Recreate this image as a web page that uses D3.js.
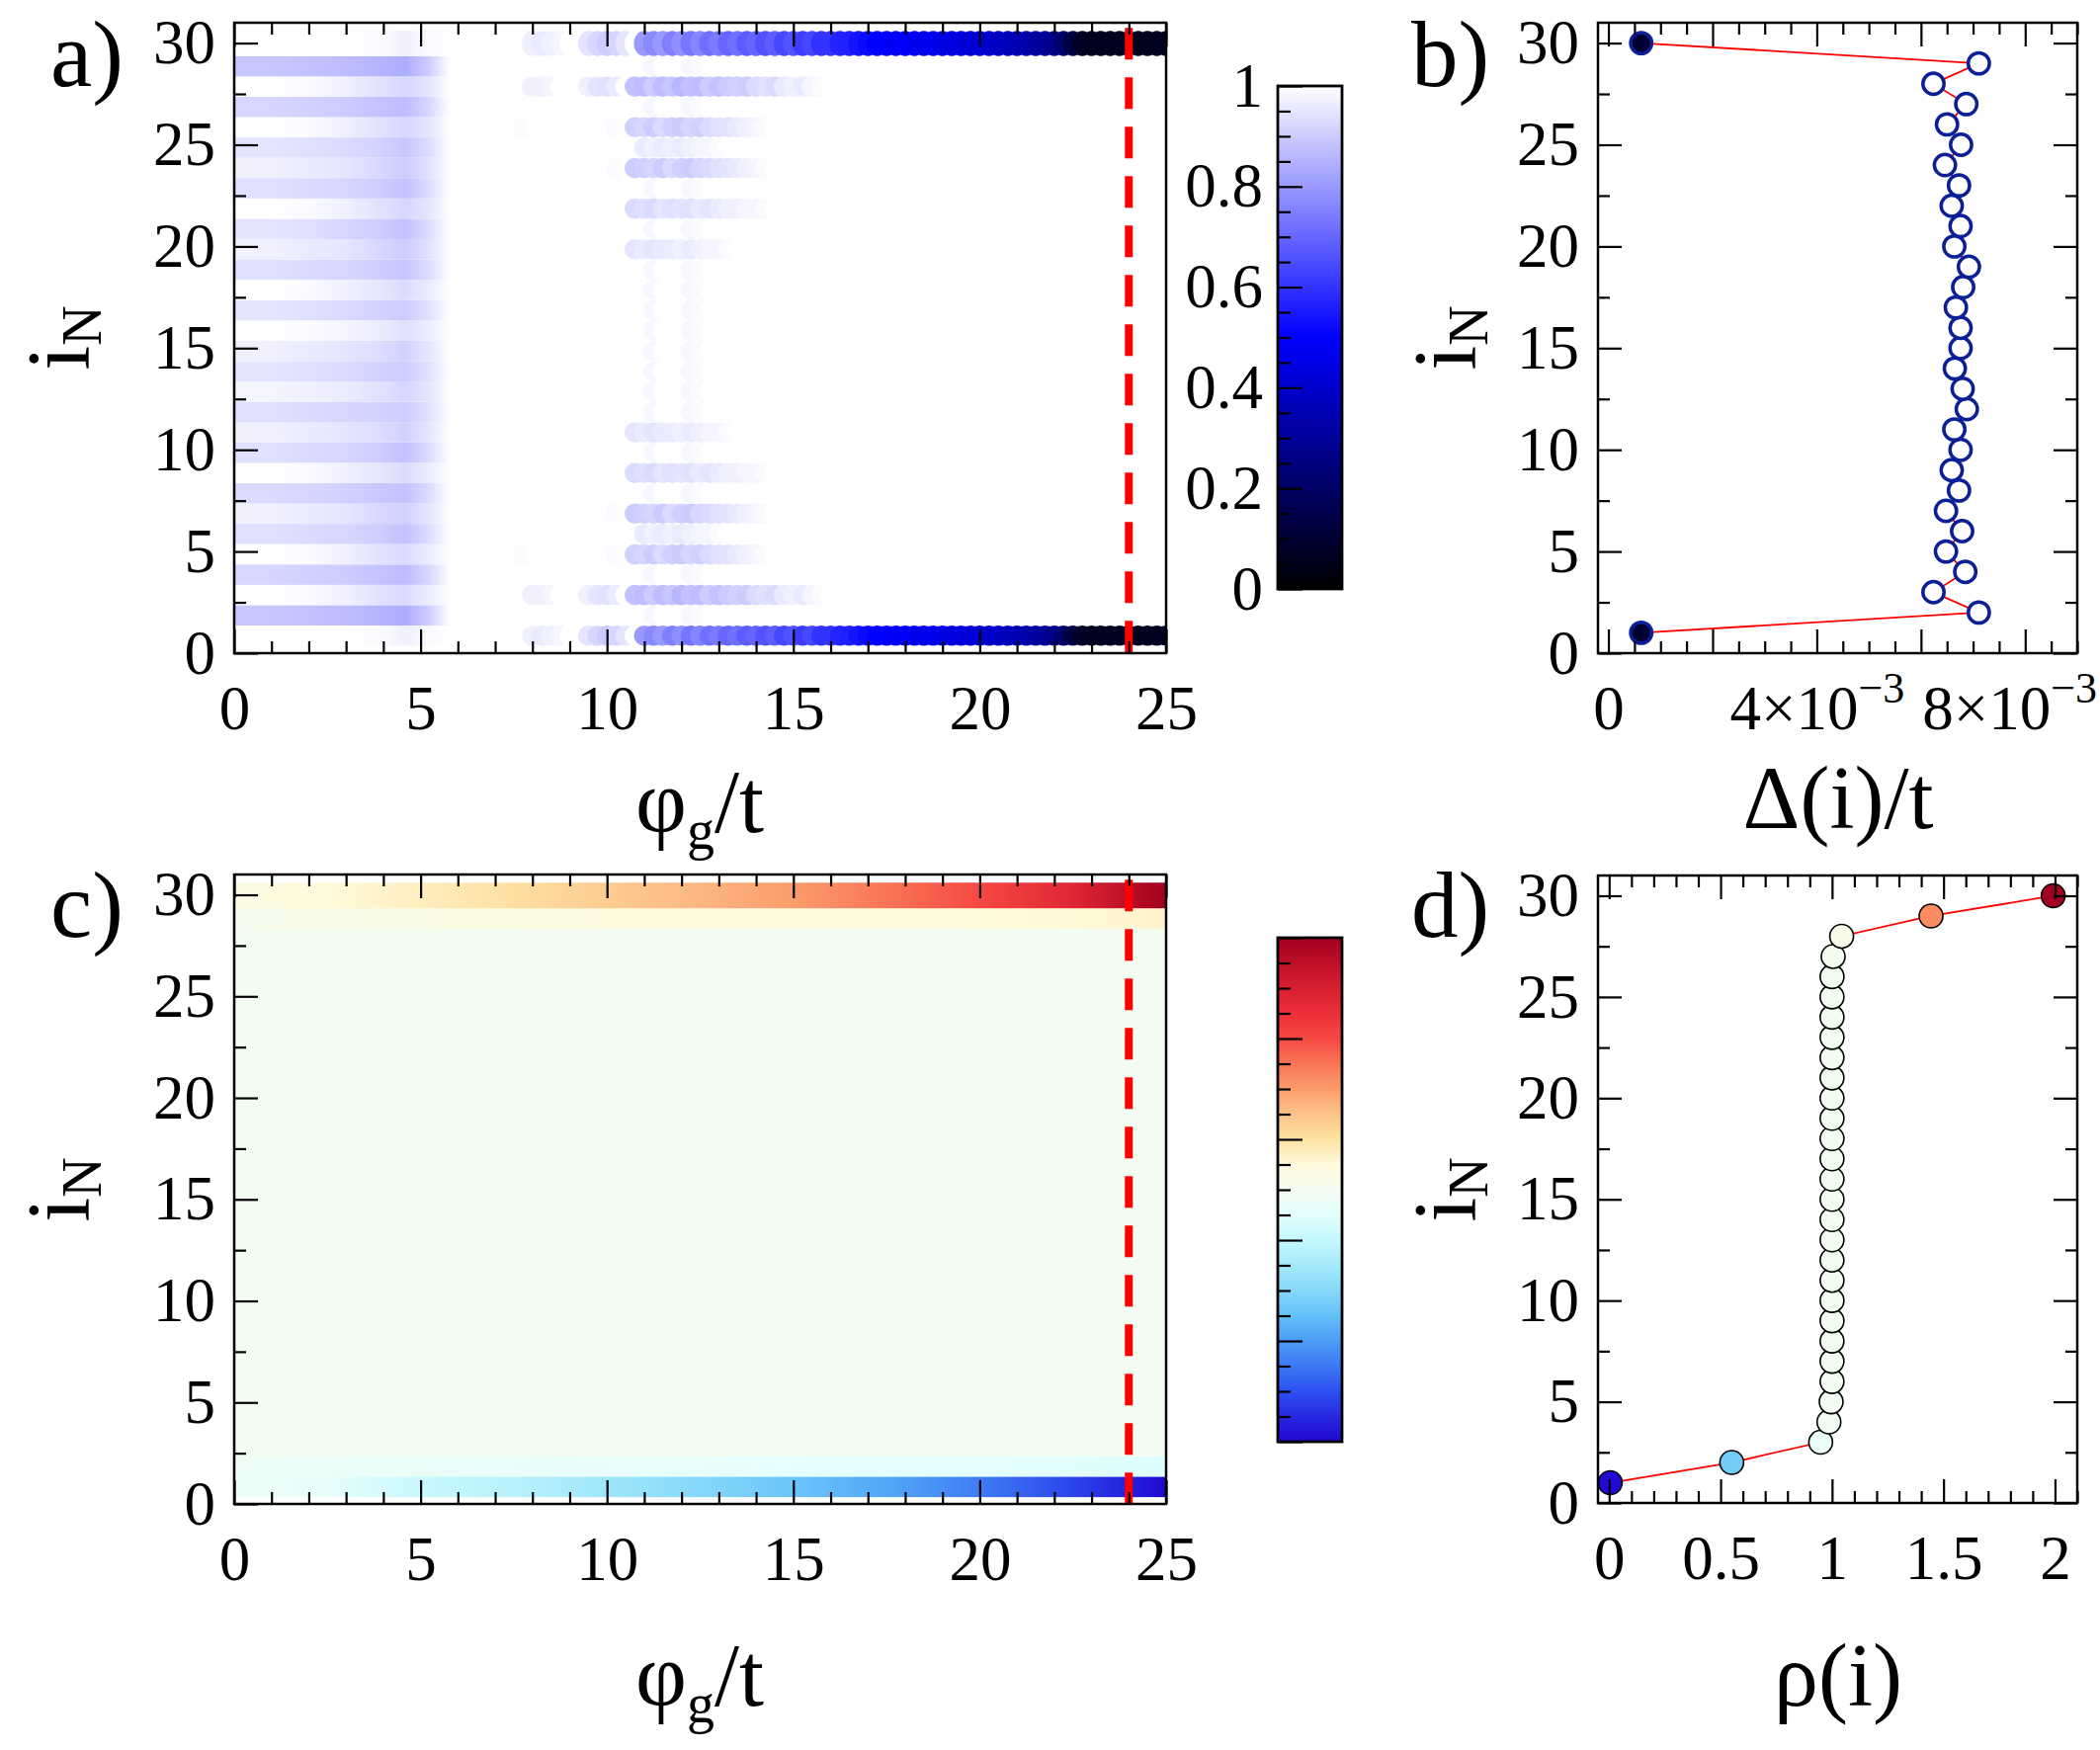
<!DOCTYPE html>
<html>
<head>
<meta charset="utf-8">
<title>LDOS, pairing and density profiles</title>
<script src="https://cdn.jsdelivr.net/npm/d3@7"></script>
<style>
  body { margin: 0; background: #fff; }
  svg text { font-family: "Liberation Serif", "Times New Roman", serif; fill: #000; }
</style>
</head>
<body>
<script>
var W = 2125, H = 1771;

// ---------------- data ----------------
var sites = d3.range(1, 31);            // i_N = 1 .. 30
var phiCut = 24;                         // red dashed cut phi_g/t

// panel a, smooth part: LDOS at these phi stops, one row per site (i = 1 .. 30)
var leftPhi = [0, 1, 2, 3, 4, 4.6, 5.2, 5.8];
var leftLdos = [
  [1, 1, 1, 1, .99, .97, .99, 1],
  [.89, .89, .88, .87, .85, .84, .9, 1],
  [1, 1, .99, .97, .94, .93, .96, 1],
  [.92, .92, .91, .9, .88, .87, .92, 1],
  [1, 1, .99, .97, .94, .93, .96, 1],
  [.94, .94, .93, .92, .9, .88, .93, 1],
  [.97, .97, .96, .95, .92, .91, .95, 1],
  [.93, .93, .92, .91, .89, .88, .93, 1],
  [1, 1, .99, .97, .95, .93, .96, 1],
  [.94, .94, .93, .92, .9, .88, .93, 1],
  [.97, .97, .96, .95, .93, .91, .95, 1],
  [.94, .94, .93, .92, .91, .9, .94, 1],
  [.98, .98, .97, .96, .94, .92, .95, 1],
  [.95, .95, .94, .93, .91, .9, .94, 1],
  [.97, .97, .96, .95, .93, .91, .95, 1],
  [1, 1, .99, .98, .96, .94, .96, 1],
  [.95, .95, .94, .93, .91, .9, .94, 1],
  [1, 1, .99, .97, .95, .93, .96, 1],
  [.94, .94, .93, .92, .9, .89, .93, 1],
  [.97, .97, .96, .95, .92, .9, .94, 1],
  [.95, .95, .94, .92, .9, .88, .93, 1],
  [1, 1, .99, .97, .94, .92, .95, 1],
  [.94, .94, .93, .92, .9, .88, .93, 1],
  [.97, .97, .96, .95, .92, .9, .94, 1],
  [.95, .95, .94, .93, .91, .89, .93, 1],
  [1, 1, .99, .97, .94, .92, .95, 1],
  [.92, .92, .91, .9, .88, .87, .92, 1],
  [1, 1, .99, .97, .94, .92, .95, 1],
  [.89, .89, .88, .87, .85, .84, .9, 1],
  [1, 1, 1, 1, .99, .97, .99, 1]
];

// panel a, marker part: LDOS on the phi grid 7.75, 8, ... 25
var circlePhi = d3.range(7.75, 25.01, 0.25);
var edgeLdos = [1, .97, .96, .97, .98, 1, 1, .95, .92, .9, .92, .95, 1,
  .8, .77, .8, .75, .78, .73, .76, .72, .74, .7, .72, .68, .7, .66, .68, .64, .66, .62, .64, .6, .6,
  .57, .56, .54, .52, .5, .5, .48, .49, .47, .46, .47, .45, .44, .44, .42, .42, .4, .39, .37, .36,
  .34, .32, .3, .27, .22, .14, .08, .06, .06, .06, .06, .06, .06, .06, .06, .06];
var side3Ldos = [1, .97, .97, .98, 1, 1, 1, .97, .95, .94, .96, 1, .88, .87, .9, .87, .89, .86,
  .88, .87, .9, .88, .9, .91, .9, .93, .94, .93, .96, .97, .96, .98, .99, 1];
var side5Ldos = [.99, 1, 1, 1, 1, 1, 1, 1, 1, 1, .99, 1, .91, .92, .9, .93, .91, .9, .92, .91,
  .93, .94, .95, .96, .97, .98, .99, 1];
var side6Ldos = [1, 1, 1, 1, 1, 1, 1, 1, 1, 1, 1, 1, 1, .96, .97, .96, .97, .96, .97, .98, .98, .99, 1];
var side7Ldos = [1, 1, 1, 1, 1, 1, 1, 1, 1, 1, .99, 1, .9, .91, .92, .9, .93, .91, .9, .92,
  .93, .94, .95, .96, .97, .98, .99, 1];
var side9Ldos = [1, 1, 1, 1, 1, 1, 1, 1, 1, 1, 1, 1, .93, .94, .93, .95, .94, .95, .94, .96,
  .95, .96, .97, .97, .98, .98, .99, 1];
var side11Ldos = [1, 1, 1, 1, 1, 1, 1, 1, 1, 1, 1, 1, .95, .96, .95, .96, .96, .97, .96, .97,
  .98, .98, .99, 1];
var faintLdos = [1, 1, 1, 1, 1, 1, 1, 1, 1, 1, 1, 1, 1, 1, .985, 1, 1, 1, .985, .99, 1];
var circleLdos = [edgeLdos, faintLdos, side3Ldos, faintLdos, side5Ldos, side6Ldos, side7Ldos,
  faintLdos, side9Ldos, faintLdos, side11Ldos, faintLdos, faintLdos, faintLdos, faintLdos,
  faintLdos, faintLdos, faintLdos, faintLdos, side11Ldos, faintLdos, side9Ldos, faintLdos,
  side7Ldos, side6Ldos, side5Ldos, faintLdos, side3Ldos, faintLdos, edgeLdos];

// panel b: Delta(i)/t in units of 1e-3, and LDOS at the cut (marker fill)
var deltaMilli = [0.63, 7.11, 6.24, 6.85, 6.48, 6.79, 6.48, 6.73, 6.59, 6.76, 6.64, 6.88, 6.80,
  6.65, 6.76, 6.76, 6.67, 6.81, 6.92, 6.64, 6.76, 6.59, 6.73, 6.46, 6.77, 6.50, 6.87, 6.24, 7.11, 0.63];
var cutLdos = [.1, 1, 1, 1, 1, 1, 1, 1, 1, 1, 1, 1, 1, 1, 1, 1, 1, 1, 1, 1, 1, 1, 1, 1, 1, 1, 1, 1, 1, .1];

// panel c: rho(i) along phi_g/t
var phiC = [0, 2.5, 5, 7.5, 10, 12.5, 15, 17.5, 20, 22.5, 25];
var rhoRow1 = [.95, .92, .81, .76, .68, .6, .52, .43, .31, .17, 0];
var rhoRow2 = [.96, .95, .94, .93, .92, .92, .91, .9, .9, .89, .88];
var rhoBulk = [1, 1, 1, 1, 1, 1, 1, 1, 1, 1, 1];
var rhoRow29 = [1.02, 1.04, 1.06, 1.07, 1.08, 1.08, 1.09, 1.09, 1.1, 1.11, 1.13];
var rhoRow30 = [1.07, 1.1, 1.15, 1.21, 1.27, 1.33, 1.4, 1.5, 1.6, 1.76, 2];

// panel d: rho(i) at the cut
var rhoSite = [0.005, 0.55, 0.949, 0.986, 0.996, 1, 1, 1, 1, 1, 1, 1, 1, 1, 1, 1, 1, 1, 1, 1,
  1, 1, 1, 1, 1, 1, 1.005, 1.043, 1.444, 1.992];

// colour maps
var ldosColors = ["#000000", "#0000ff", "#ffffff"];
var tempColors = ["#2108d2", "#2828e0", "#2c50f0", "#3c78f4", "#4c9cf6", "#64c0f8", "#86d8fa",
  "#a6eafa", "#c4f8fe", "#e4fefe", "#f3fcf1", "#fffadc", "#fee2a2", "#fdc38a", "#fb9c6c",
  "#f97556", "#f64842", "#ec3039", "#d81f31", "#bf1028", "#a00020"];

// ---------------- layout ----------------
var boxA = {l: 237, r: 1180, t: 23, b: 661};
var boxB = {l: 1617, r: 2102, t: 23, b: 661};
var boxC = {l: 237, r: 1180, t: 885, b: 1522};
var boxD = {l: 1617, r: 2102, t: 886, b: 1521};
var FONT = "'Liberation Serif', 'Times New Roman', serif";
var TICKFONT = 63;

var svg = d3.select("body").append("svg").attr("width", W).attr("height", H);
var defs = svg.append("defs");

var colorA = d3.scaleLinear().domain([0, .5, 1]).range(ldosColors);
var colorC = d3.scaleLinear().domain(tempColors.map(function (c, k) { return k / 10; })).range(tempColors);

function yScale(box) { return d3.scaleLinear().domain([0, 31]).range([box.b, box.t]); }
function bandTop(i) { return i === 30 ? 30.6 : i + 0.36; }
function bandBottom(i) { return i - 0.64; }
function notOn(step) { return function (d) { return Math.abs(d / step - Math.round(d / step)) > 1e-6; }; }

function clip(id, box) {
  defs.append("clipPath").attr("id", id).append("rect")
    .attr("x", box.l).attr("y", box.t).attr("width", box.r - box.l).attr("height", box.b - box.t);
  return svg.append("g").attr("clip-path", "url(#" + id + ")");
}

function styled(sel) {
  sel.attr("font-family", FONT).attr("font-size", TICKFONT);
  sel.select(".domain").remove();
  sel.selectAll(".tick line").attr("stroke", "#000").attr("stroke-width", 2.2);
  sel.selectAll(".tick text").attr("fill", "#000");
}

function drawAxes(box, x, y, o) {
  var g = svg.append("g");
  var yMinor = d3.range(2.5, 30, 5), yMajor = d3.range(0, 31, 5);
  g.append("g").attr("transform", "translate(0," + box.b + ")")
    .call(d3.axisBottom(x).tickValues(o.xMinor).tickSize(-12).tickFormat("")).call(styled);
  o.xAxisB = g.append("g").attr("transform", "translate(0," + box.b + ")")
    .call(d3.axisBottom(x).tickValues(o.xMajor).tickSize(-24).tickPadding(32).tickFormat(o.xFormat)).call(styled);
  g.append("g").attr("transform", "translate(0," + box.t + ")")
    .call(d3.axisTop(x).tickValues(o.xMinor).tickSize(-12).tickFormat("")).call(styled);
  g.append("g").attr("transform", "translate(0," + box.t + ")")
    .call(d3.axisTop(x).tickValues(o.xMajor).tickSize(-24).tickFormat("")).call(styled);
  g.append("g").attr("transform", "translate(" + box.l + ",0)")
    .call(d3.axisLeft(y).tickValues(yMinor).tickSize(-12).tickFormat("")).call(styled);
  g.append("g").attr("transform", "translate(" + box.l + ",0)")
    .call(d3.axisLeft(y).tickValues(yMajor).tickSize(-24).tickPadding(19).tickFormat(d3.format("d"))).call(styled);
  if (o.right) {
    g.append("g").attr("transform", "translate(" + box.r + ",0)")
      .call(d3.axisRight(y).tickValues(yMinor).tickSize(-12).tickFormat("")).call(styled);
    g.append("g").attr("transform", "translate(" + box.r + ",0)")
      .call(d3.axisRight(y).tickValues(yMajor).tickSize(-24).tickFormat("")).call(styled);
  }
  g.append("rect").attr("x", box.l).attr("y", box.t)
    .attr("width", box.r - box.l).attr("height", box.b - box.t)
    .attr("fill", "none").attr("stroke", "#000").attr("stroke-width", 2.5);
  return o;
}

function cutLine(g, x, y) {
  g.append("line").attr("x1", x(phiCut)).attr("x2", x(phiCut))
    .attr("y1", y(30.75)).attr("y2", y(0))
    .attr("stroke", "#ff0000").attr("stroke-width", 8).attr("stroke-dasharray", "32,18");
}

function colorbar(id, top, bottom, stops, minor, major, labels) {
  var x0 = 1293, w = 65;
  var grad = defs.append("linearGradient").attr("id", id)
    .attr("x1", 0).attr("y1", 1).attr("x2", 0).attr("y2", 0);
  grad.selectAll("stop").data(stops).enter().append("stop")
    .attr("offset", function (c, k) { return k / (stops.length - 1); })
    .attr("stop-color", function (c) { return c; });
  svg.append("rect").attr("x", x0).attr("y", top).attr("width", w).attr("height", bottom - top)
    .attr("fill", "url(#" + id + ")");
  var s = d3.scaleLinear().domain([major[0], major[major.length - 1]]).range([bottom, top]);
  svg.append("g").attr("transform", "translate(" + x0 + ",0)")
    .call(d3.axisLeft(s).tickValues(minor).tickSize(-13).tickFormat("")).call(styled);
  svg.append("g").attr("transform", "translate(" + x0 + ",0)")
    .call(d3.axisLeft(s).tickValues(major).tickSize(-25).tickPadding(15)
      .tickFormat(labels ? d3.format("~g") : "")).call(styled);
  svg.append("rect").attr("x", x0).attr("y", top).attr("width", w).attr("height", bottom - top)
    .attr("fill", "none").attr("stroke", "#000").attr("stroke-width", 2.8);
}

function text(x, y, size, parts, rotate) {
  var t = svg.append("text").attr("font-size", size).attr("text-anchor", rotate ? "middle" : null)
    .attr("font-family", FONT);
  if (rotate) t.attr("transform", "translate(" + x + "," + y + ") rotate(-90)");
  else t.attr("x", x).attr("y", y);
  parts.forEach(function (p) {
    t.append("tspan").text(p[0]).attr("font-size", p[1] || size).attr("dy", p[2] || 0);
  });
  return t;
}

// ---------------- panel a ----------------
var xA = d3.scaleLinear().domain([0, 25]).range([boxA.l, boxA.r]);
var yA = yScale(boxA);
var gA = clip("clipA", boxA);
sites.forEach(function (i, r) {
  var y0 = yA(bandTop(i)), y1 = yA(bandBottom(i));
  var last = leftPhi[leftPhi.length - 1];
  var grad = defs.append("linearGradient").attr("id", "gradA" + i)
    .attr("gradientUnits", "userSpaceOnUse")
    .attr("x1", xA(0)).attr("x2", xA(last)).attr("y1", 0).attr("y2", 0);
  grad.selectAll("stop").data(leftLdos[r]).enter().append("stop")
    .attr("offset", function (v, k) { return leftPhi[k] / last; })
    .attr("stop-color", function (v) { return colorA(v); });
  gA.append("rect").attr("x", xA(0)).attr("width", xA(last) - xA(0))
    .attr("y", y0).attr("height", y1 - y0).attr("fill", "url(#gradA" + i + ")");
  gA.append("g").selectAll("ellipse").data(circleLdos[r]).enter().append("ellipse")
    .attr("cx", function (v, k) { return xA(circlePhi[k]); })
    .attr("cy", (y0 + y1) / 2).attr("rx", 10.5).attr("ry", (y1 - y0) / 2)
    .attr("fill", function (v) { return colorA(v); });
});
cutLine(gA, xA, yA);
drawAxes(boxA, xA, yA, {
  xMinor: d3.range(0, 26).filter(notOn(5)), xMajor: d3.range(0, 26, 5), xFormat: d3.format("d")
});
colorbar("cbA", 87, 596, ldosColors, d3.range(0, 1.001, 0.05).filter(notOn(0.2)), [0, .2, .4, .6, .8, 1], true);

// ---------------- panel b ----------------
var xB = d3.scaleLinear().domain([-0.2e-3, 9.0e-3]).range([boxB.l, boxB.r]);
var yB = yScale(boxB);
var bPts = sites.map(function (i, r) { return {i: i, v: deltaMilli[r] * 1e-3, f: cutLdos[r]}; });
svg.append("path").datum(bPts)
  .attr("d", d3.line().x(function (d) { return xB(d.v); }).y(function (d) { return yB(d.i); }))
  .attr("fill", "none").attr("stroke", "#ff0000").attr("stroke-width", 1.8);
svg.append("g").selectAll("circle").data(bPts).enter().append("circle")
  .attr("cx", function (d) { return xB(d.v); }).attr("cy", function (d) { return yB(d.i); })
  .attr("r", 10.7).attr("fill", function (d) { return colorA(d.f); })
  .attr("stroke", "#0b1f96").attr("stroke-width", 3.5);
var axB = drawAxes(boxB, xB, yB, {
  right: true,
  xMinor: d3.range(0, 9.01, 0.5).map(function (d) { return d * 1e-3; }).filter(notOn(2e-3)),
  xMajor: [0, 2e-3, 4e-3, 6e-3, 8e-3],
  xFormat: function () { return ""; }
});
axB.xAxisB.selectAll(".tick text").each(function (d) {
  var t = d3.select(this);
  var m = Math.round(d * 1e3);
  if (m === 0) { t.text("0"); return; }
  if (m % 4 !== 0) return;
  t.append("tspan").text(m + "×10");
  t.append("tspan").text("−3").attr("font-size", 44).attr("dy", -27);
  var rc = this.getBoundingClientRect();
  if (rc.right > W - 3) t.attr("dx", W - 3 - rc.right);
});

// ---------------- panel c ----------------
var xC = d3.scaleLinear().domain([0, 25]).range([boxC.l, boxC.r]);
var yC = yScale(boxC);
var gC = clip("clipC", boxC);
var rhoMap = sites.map(function (i) {
  return i === 1 ? rhoRow1 : i === 2 ? rhoRow2 : i === 29 ? rhoRow29 : i === 30 ? rhoRow30 : rhoBulk;
});
sites.forEach(function (i, r) {
  var y0 = yC(bandTop(i)), y1 = yC(bandBottom(i));
  var grad = defs.append("linearGradient").attr("id", "gradC" + i)
    .attr("gradientUnits", "userSpaceOnUse")
    .attr("x1", xC(0)).attr("x2", xC(25)).attr("y1", 0).attr("y2", 0);
  grad.selectAll("stop").data(rhoMap[r]).enter().append("stop")
    .attr("offset", function (v, k) { return phiC[k] / 25; })
    .attr("stop-color", function (v) { return colorC(v); });
  gC.append("rect").attr("x", xC(0)).attr("width", xC(25) - xC(0))
    .attr("y", y0).attr("height", y1 - y0 + 0.5).attr("fill", "url(#gradC" + i + ")");
});
cutLine(gC, xC, yC);
drawAxes(boxC, xC, yC, {
  xMinor: d3.range(0, 26).filter(notOn(5)), xMajor: d3.range(0, 26, 5), xFormat: d3.format("d")
});
colorbar("cbC", 949, 1459, tempColors, d3.range(0, 2.001, 0.1).filter(notOn(0.4)), [0, .4, .8, 1.2, 1.6, 2], false);

// ---------------- panel d ----------------
var xD = d3.scaleLinear().domain([-0.05, 2.1]).range([boxD.l, boxD.r]);
var yD = yScale(boxD);
var dPts = sites.map(function (i, r) { return {i: i, v: rhoSite[r]}; });
svg.append("path").datum(dPts)
  .attr("d", d3.line().x(function (d) { return xD(d.v); }).y(function (d) { return yD(d.i); }))
  .attr("fill", "none").attr("stroke", "#ff0000").attr("stroke-width", 1.8);
svg.append("g").selectAll("circle").data(dPts).enter().append("circle")
  .attr("cx", function (d) { return xD(d.v); }).attr("cy", function (d) { return yD(d.i); })
  .attr("r", 12).attr("fill", function (d) { return colorC(d.v); })
  .attr("stroke", "#000").attr("stroke-width", 1.6);
drawAxes(boxD, xD, yD, {
  right: true,
  xMinor: d3.range(0, 2.101, 0.1).filter(notOn(0.5)),
  xMajor: [0, 0.5, 1, 1.5, 2], xFormat: d3.format("~g")
});

// ---------------- labels ----------------
text(51, 87, 95, [["a)"]]);
text(1428, 87, 95, [["b)"]]);
text(51, 948, 95, [["c)"]]);
text(1428, 948, 95, [["d)"]]);

text(708, 842, 90, [["φ"], ["g", 56, 17], ["/t", 90, -17]]).attr("text-anchor", "middle");
text(708, 1726, 90, [["φ"], ["g", 56, 17], ["/t", 90, -17]]).attr("text-anchor", "middle");
text(1860, 838, 90, [["Δ(i)/t"]]).attr("text-anchor", "middle");
text(1860, 1726, 90, [["ρ(i)"]]).attr("text-anchor", "middle");

text(90, 342, 90, [["i"], ["N", 56, 12]], true);
text(1493, 342, 90, [["i"], ["N", 56, 12]], true);
text(90, 1204, 90, [["i"], ["N", 56, 12]], true);
text(1493, 1204, 90, [["i"], ["N", 56, 12]], true);
</script>
</body>
</html>
